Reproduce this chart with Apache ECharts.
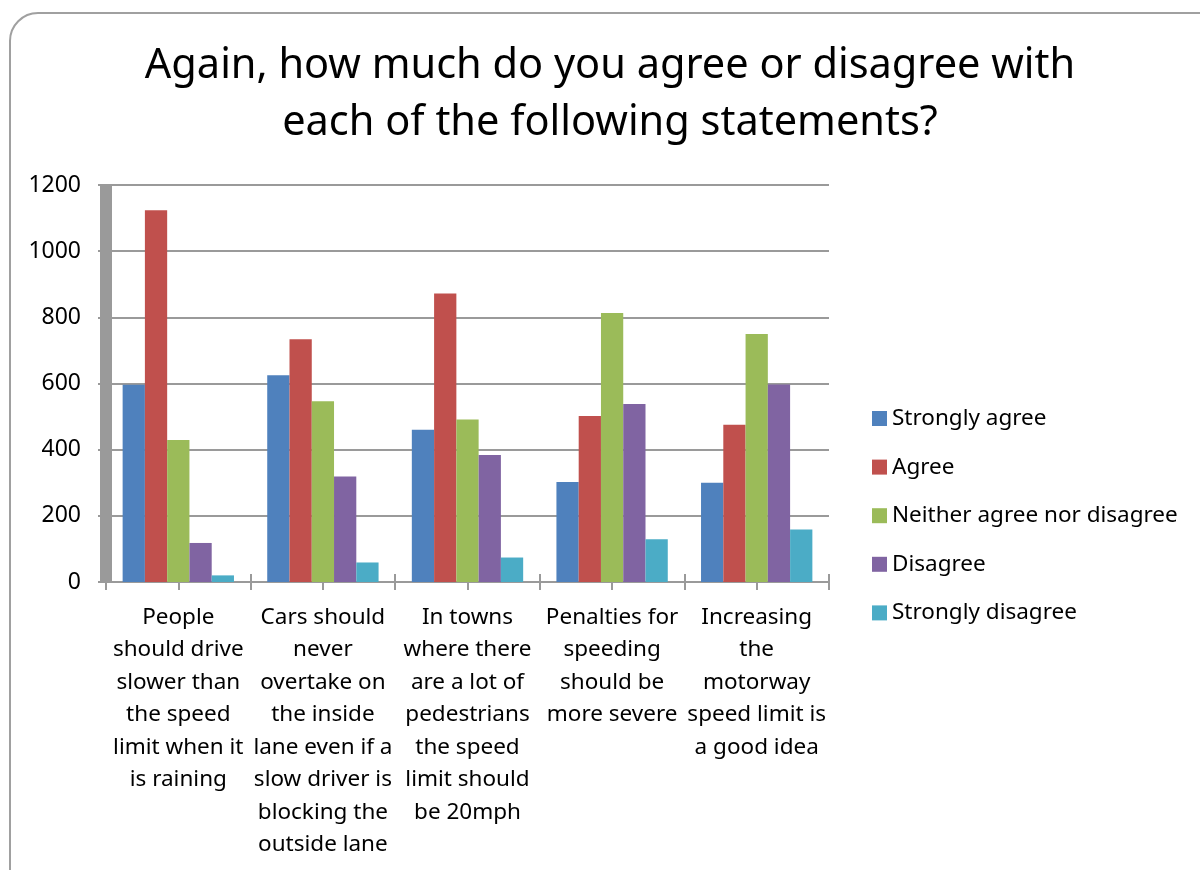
<!DOCTYPE html>
<html>
<head>
<meta charset="utf-8">
<style>
  html, body { margin: 0; padding: 0; background: #fff; }
  #chart { width: 1200px; height: 870px; }
</style>
<script src="https://cdn.jsdelivr.net/npm/echarts@6/dist/echarts.min.js"></script>
</head>
<body>
<div id="chart"></div>
<script>
// Survey statements (category labels, wrapped as displayed)
const categories = [
  'People\nshould drive\nslower than\nthe speed\nlimit when it\nis raining',
  'Cars should\nnever\novertake on\nthe inside\nlane even if a\nslow driver is\nblocking the\noutside lane',
  'In towns\nwhere there\nare a lot of\npedestrians\nthe speed\nlimit should\nbe 20mph',
  'Penalties for\nspeeding\nshould be\nmore severe',
  'Increasing\nthe\nmotorway\nspeed limit is\na good idea'
];

// Response counts per answer option
const stronglyAgree    = [596, 625, 460, 302, 300];
const agree            = [1124, 734, 872, 502, 475];
const neither          = [429, 546, 491, 813, 750];
const disagree         = [118, 319, 384, 538, 597];
const stronglyDisagree = [20, 59, 74, 129, 159];

const seriesNames = ['Strongly agree', 'Agree', 'Neither agree nor disagree', 'Disagree', 'Strongly disagree'];
const seriesValues = [stronglyAgree, agree, neither, disagree, stronglyDisagree];
const seriesColors = ['#4F81BD', '#C0504D', '#9BBB59', '#8064A2', '#4BACC6'];

const yTicks = [0, 200, 400, 600, 800, 1000, 1200];

const FONT = '"Noto Sans", "Open Sans", sans-serif';
const AXIS_GREY = '#9a9a9a';

const chart = echarts.init(document.getElementById('chart'), null, { renderer: 'canvas' });

const option = {
  backgroundColor: '#ffffff',
  animation: false,
  color: seriesColors,
  title: {
    text: 'Again, how much do you agree or disagree with\neach of the following statements?',
    left: 610,
    top: 38,
    padding: 0,
    textAlign: 'center',
    textStyle: {
      fontFamily: FONT,
      fontWeight: 'normal',
      fontSize: 41.5,
      lineHeight: 57,
      color: '#000'
    }
  },
  legend: {
    orient: 'vertical',
    left: 872,
    top: 407,
    padding: 0,
    itemWidth: 15,
    itemHeight: 15,
    itemGap: 25.6,
    icon: 'rect',
    textStyle: { fontFamily: FONT, fontSize: 22.5, color: '#000', lineHeight: 20 },
    data: seriesNames
  },
  grid: { left: 106, right: 371, top: 185, bottom: 288, containLabel: false },
  xAxis: [
    {
      type: 'category',
      data: categories,
      axisLine: { show: true, lineStyle: { color: AXIS_GREY, width: 2 } },
      axisTick: { show: false },
      axisLabel: {
        interval: 0,
        margin: 19,
        fontFamily: FONT,
        fontSize: 22.5,
        lineHeight: 32.5,
        color: '#000',
        align: 'center'
      },
      splitLine: { show: false }
    },
    {
      // half-category ticks hanging below the axis
      type: 'value',
      position: 'bottom',
      min: 0, max: 10, interval: 1,
      axisLine: { show: false },
      axisTick: { show: true, inside: false, length: 8, lineStyle: { color: AXIS_GREY, width: 2 } },
      axisLabel: { show: false },
      splitLine: { show: false }
    },
    {
      // matching ticks rising above the axis
      type: 'value',
      position: 'bottom',
      min: 0, max: 10, interval: 1,
      axisLine: { show: false },
      axisTick: { show: true, inside: true, length: 8, lineStyle: { color: AXIS_GREY, width: 2 } },
      axisLabel: { show: false },
      splitLine: { show: false }
    }
  ],
  yAxis: {
    type: 'value',
    min: yTicks[0],
    max: yTicks[yTicks.length - 1],
    interval: 200,
    axisLine: { show: true, lineStyle: { color: AXIS_GREY, width: 12, cap: 'butt' } },
    axisTick: { show: true, length: 8, lineStyle: { color: AXIS_GREY, width: 2 } },
    axisLabel: {
      margin: 25,
      fontFamily: FONT,
      fontSize: 23,
      color: '#000',
      formatter: (v) => String(v)
    },
    splitLine: { show: true, lineStyle: { color: AXIS_GREY, width: 2 } }
  },
  series: seriesNames.map((name, i) => ({
    name: name,
    type: 'bar',
    xAxisIndex: 0,
    data: seriesValues[i],
    barGap: '0%',
    barCategoryGap: '23%',
    itemStyle: { color: seriesColors[i] },
    z: 3
  })),
  graphic: [
    {
      type: 'rect',
      shape: { x: 10, y: 13, width: 1260, height: 920, r: 28 },
      style: { fill: 'none', stroke: '#a0a0a0', lineWidth: 2 },
      silent: true,
      z: 100
    }
  ]
};

chart.setOption(option);
</script>
</body>
</html>
